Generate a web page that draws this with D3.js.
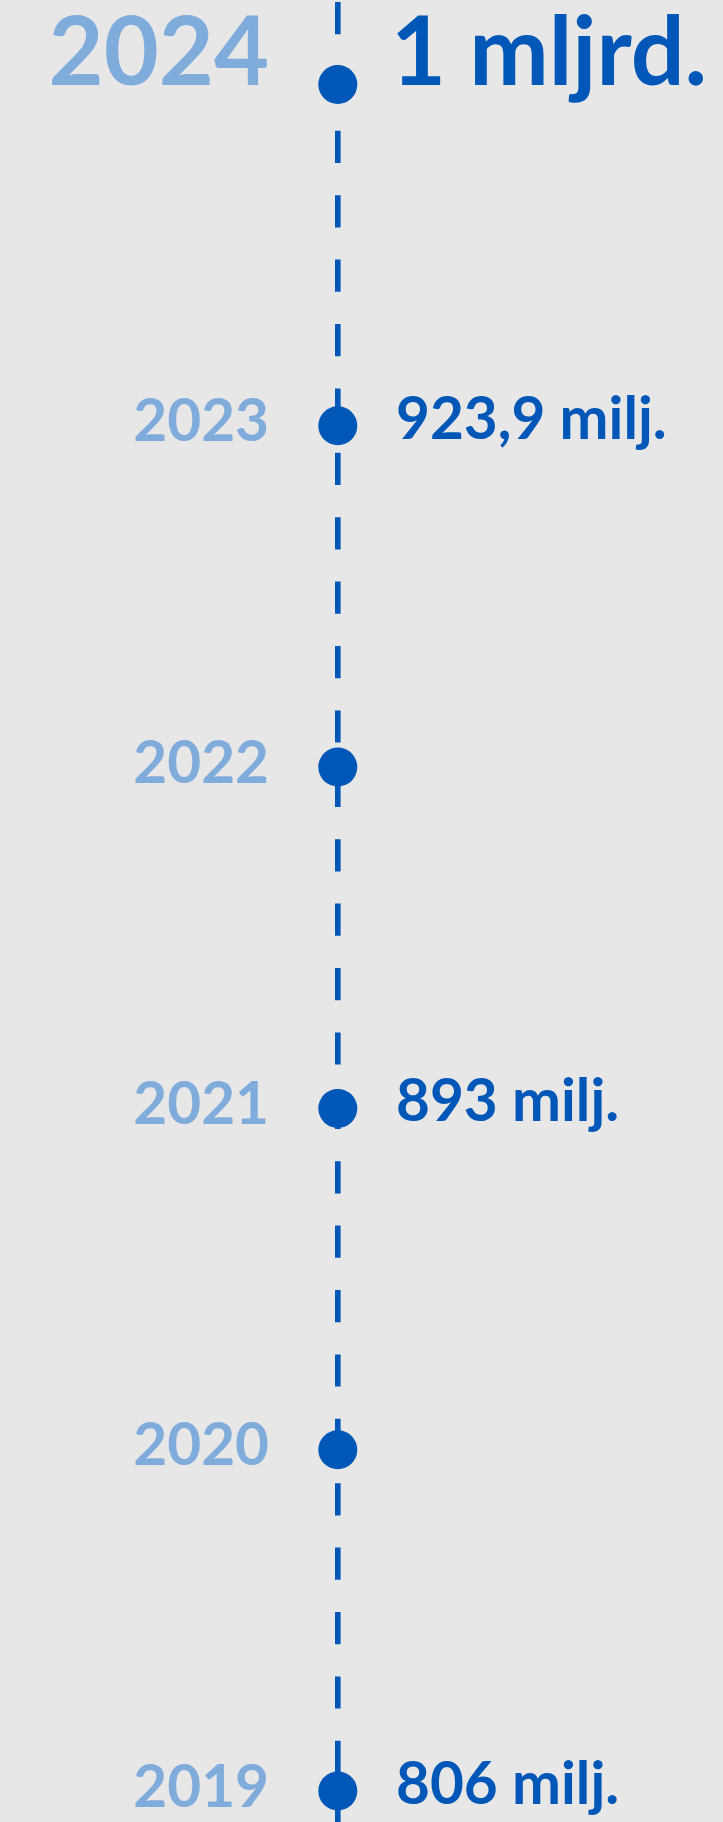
<!DOCTYPE html>
<html>
<head>
<meta charset="utf-8">
<script src="https://cdn.jsdelivr.net/npm/d3@7"></script>
<style>
  html, body { margin: 0; padding: 0; background: #e7e7e7; }
  svg { display: block; }
  text { font-family: Lato, "Open Sans", sans-serif; font-weight: 700; }
</style>
</head>
<body>
<div id="chart"></div>
<script>
// Data
const years = ["2024", "2023", "2022", "2021", "2020", "2019"];
const valuesMillions = [1000, 923.9, null, 893, null, 806];
const valueLabels = ["1 mljrd.", "923,9 milj.", null, "893 milj.", null, "806 milj."];
const highlighted = ["2024"];

const W = 723, H = 1822;
const svg = d3.select("#chart").append("svg").attr("width", W).attr("height", H);
svg.append("rect").attr("width", W).attr("height", H).attr("fill", "#e7e7e7");

const y = d3.scalePoint().domain(years).range([84.5, 1791]);
const lineX = 337.8;
const dark = "#0057b8", light = "#80acdc";

svg.append("line")
  .attr("x1", lineX).attr("x2", lineX)
  .attr("y1", 2).attr("y2", H)
  .attr("stroke", dark).attr("stroke-width", 5.6)
  .attr("stroke-dasharray", "32.2,32.2");

const rows = years.map((yr, i) => ({ yr, v: valuesMillions[i], label: valueLabels[i], big: highlighted.includes(yr) }));

const g = svg.selectAll("g.row").data(rows).join("g").attr("class", "row");

g.append("circle")
  .attr("cx", lineX).attr("cy", d => y(d.yr)).attr("r", 19.5)
  .attr("fill", dark);

g.append("text")
  .attr("x", 269)
  .attr("y", d => y(d.yr) + (d.big ? 0 : 15.5))
  .attr("text-anchor", "end")
  .attr("fill", light)
  .attr("font-size", d => d.big ? 95 : 58.5)
  .text(d => d.yr);

g.filter(d => d.label).append("text")
  .attr("x", d => d.big ? 391 : 396)
  .attr("y", d => y(d.yr) + (d.big ? 0 : 13))
  .attr("fill", dark)
  .attr("font-size", d => d.big ? 95 : 58.5)
  .text(d => d.label);
</script>
</body>
</html>
